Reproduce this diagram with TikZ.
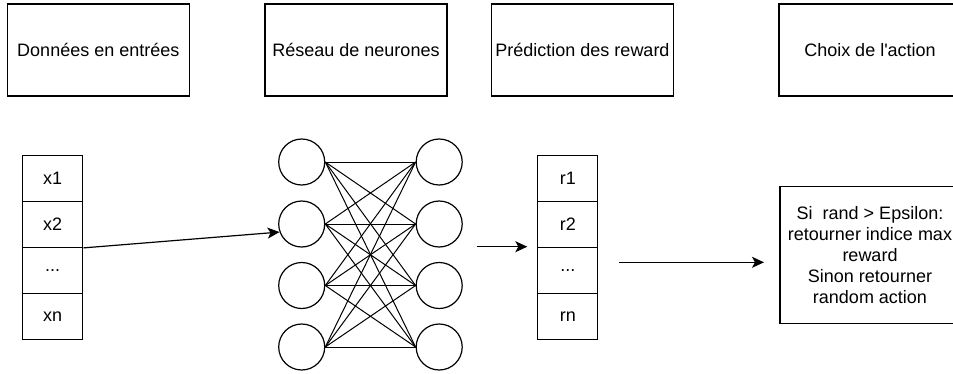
\documentclass[tikz,border=0pt]{standalone}
\usepackage{fontspec}
\setmainfont{Liberation Sans}
\usetikzlibrary{arrows.meta}
\begin{document}
\begin{tikzpicture}[x=1pt,y=-1pt,
  every node/.style={font=\fontsize{18}{21}\selectfont, inner sep=0pt},
  stage/.style={draw, line width=1.2pt, minimum width=182pt, minimum height=92pt},
  cell/.style={draw, line width=1.2pt, minimum width=60pt, minimum height=46pt},
  neuron/.style={draw, line width=1.2pt, circle, minimum size=46pt},
  link/.style={line width=1pt},
  flow/.style={line width=1.2pt, -{Stealth[length=12pt, width=11pt, inset=3pt]}}]

\useasboundingbox[fill=white] (0,0) rectangle (953,373);

% column headers
\node[stage] (h1) at (98.3,50) {Données en entrées};
\node[stage] (h2) at (356,50) {Réseau de neurones};
\node[stage] (h3) at (582.5,50) {Prédiction des reward};
\node[stage] (h4) at (870,50) {Choix de l\textquotesingle action};

% input vector
\node[cell] (x1) at (52.7,178.3) {x1};
\node[cell] (x2) at (52.7,224.3) {x2};
\node[cell] (x3) at (52.7,270.3) {...};
\node[cell] (x4) at (52.7,316.3) {xn};

% two fully connected layers
\foreach \i/\y in {1/162,2/224,3/285.5,4/347} {
  \node[neuron] (L\i) at (301.7,\y) {};
  \node[neuron] (R\i) at (439.2,\y) {};
}
\foreach \i in {1,...,4}
  \foreach \j in {1,...,4}
    \draw[link] (L\i.east) -- (R\j.west);

% predicted rewards
\node[cell] (r1) at (567.8,178.7) {r1};
\node[cell] (r2) at (567.8,224.7) {r2};
\node[cell] (r3) at (567.8,270.7) {...};
\node[cell] (r4) at (567.8,316.7) {rn};

% action selection rule
\node[draw, line width=1.2pt, minimum width=180pt, minimum height=136.6pt,
      align=center] (act) at (870,255) {Si\ \ rand > Epsilon:\\retourner indice max\\reward\\Sinon retourner\\random action};

% flow between stages
\coordinate (n2s) at (476.7,246.7);
\coordinate (n2e) at (527.3,246.7);
\coordinate (n3s) at (619,262.3);
\coordinate (n3e) at (764,262.3);

\draw[flow] (x2.south east) -- (L2.200);
\draw[flow] (n2s) -- (n2e);
\draw[flow] (n3s) -- (n3e);
\end{tikzpicture}
\end{document}
